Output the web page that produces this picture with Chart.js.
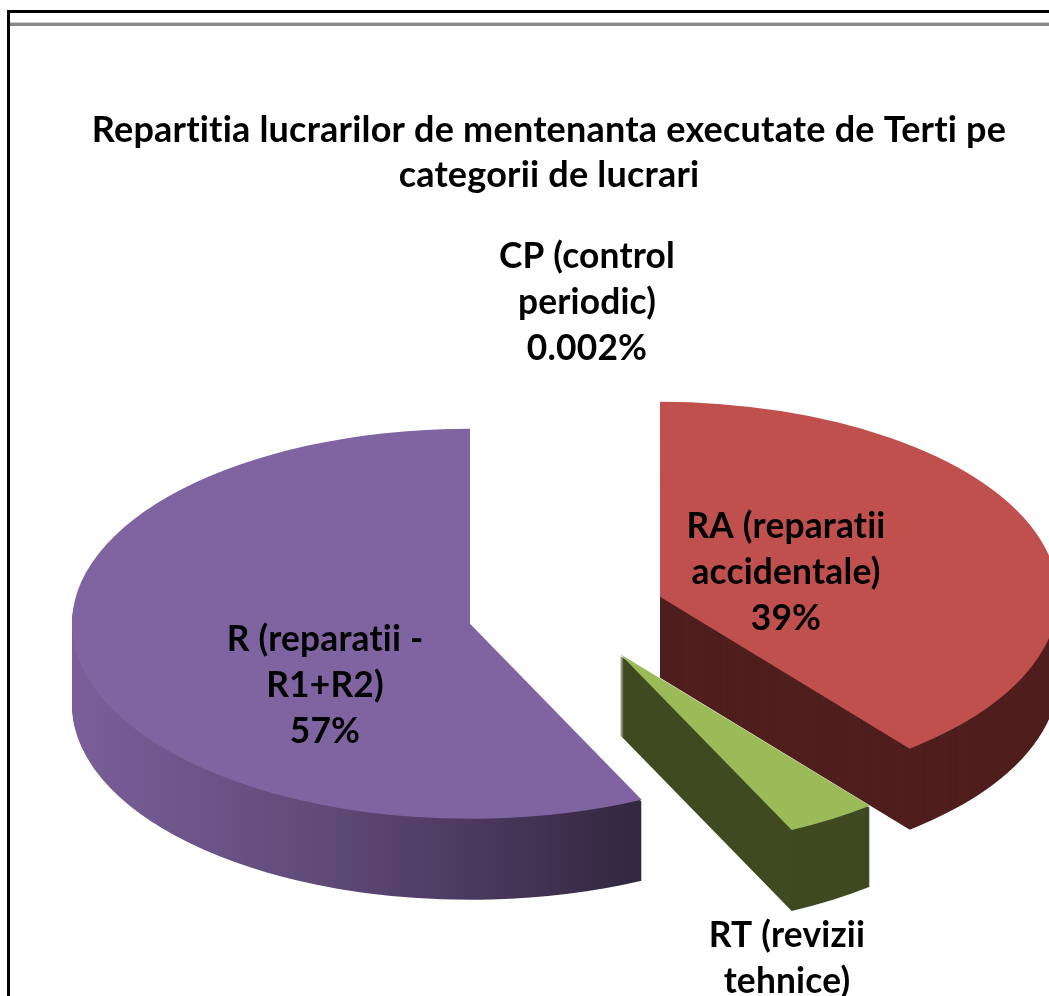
<!DOCTYPE html>
<html>
<head>
<meta charset="utf-8">
<style>
html,body{margin:0;padding:0;background:#fff;overflow:hidden;width:1049px;height:996px}
#frame{position:absolute;left:7px;top:10px;width:1100px;height:1100px;border-left:3px solid #000;border-top:3px solid #000}
#rule{position:absolute;left:10px;top:22px;width:1039px;height:3px;background:#888;border-top:1px solid #ccc}
#c{position:absolute;left:8px;top:12px}
</style>
<script src="https://cdn.jsdelivr.net/npm/chart.js@4"></script>
</head>
<body>
<div id="frame"></div>
<div id="rule"></div>
<canvas id="c" width="1082" height="1100" style="width:1082px;height:1100px"></canvas>
<script>
const titleLines = ['Repartitia lucrarilor de mentenanta executate de Terti pe', 'categorii de lucrari'];
const categories = ['CP (control periodic)', 'RA (reparatii accidentale)', 'RT (revizii tehnice)', 'R (reparatii - R1+R2)'];
const values = [0.002, 39.2, 3.7, 57.1];
const valueLabels = ['0.002%', '39%', '4%', '57%'];
const labelLines = [['CP (control', 'periodic)'], ['RA (reparatii', 'accidentale)'], ['RT (revizii', 'tehnice)'], ['R (reparatii -', 'R1+R2)']];

const topColors = ['#4f81bd', '#c0504d', '#9bbb59', '#8064a2'];
const wallColors = ['#2a4565', '#4f1f1e', '#3f4a21', null];
const FONT = 'Lato, Carlito, sans-serif';
const SQUASH = 0.49, DEPTH = 81, RADIUS = 398, EXPLODE = 99, SHIFT_X = 18;
// label centres relative to the pie centre, in pixels
const labelAnchors = [[20, -310], [219, -40], [220, 369], [-242, 73]];
const LABEL_LINE = 46;

// one slice in the squashed, exploded 3D scene
function drawSlice(ctx, arc, dy) {
  const mid = (arc.startAngle + arc.endAngle) / 2;
  ctx.save();
  ctx.translate(Math.round(SHIFT_X + Math.cos(mid) * EXPLODE), arc.y + dy + Math.sin(mid) * EXPLODE * SQUASH);
  ctx.scale(1, SQUASH);
  ctx.translate(0, -arc.y);
  arc.draw(ctx);
  ctx.restore();
}

const pie3d = {
  id: 'pie3d',
  beforeDraw(chart) {
    chart.ctx.letterSpacing = '0.2px';
  },
  beforeDatasetsDraw(chart) {
    const ctx = chart.ctx;
    // slices narrower than a pixel leave no visible mark
    const arcs = chart.getDatasetMeta(0).data;
    const visible = arcs.map(a => (a.endAngle - a.startAngle) * a.outerRadius >= 1);
    const wallGrad = ctx.createLinearGradient(140, 0, 708, 0);
    wallGrad.addColorStop(0, '#7a5f9a');
    wallGrad.addColorStop(0.45, '#5f4a78');
    wallGrad.addColorStop(0.8, '#453356');
    wallGrad.addColorStop(1, '#322840');
    // side walls first, back to front
    arcs.forEach((arc, i) => {
      if (!visible[i]) return;
      const saved = arc.options;
      arc.options = Object.assign({}, saved, {backgroundColor: wallColors[i] || wallGrad});
      for (let d = DEPTH; d >= 2; d--) drawSlice(ctx, arc, d);
      arc.options = saved;
    });
    // then the top faces
    arcs.forEach((arc, i) => { if (visible[i]) drawSlice(ctx, arc, 0); });
    // labels
    const arc0 = arcs[0];
    ctx.save();
    ctx.fillStyle = '#000';
    ctx.font = 'bold 35.3px ' + FONT;
    ctx.textAlign = 'center';
    ctx.textBaseline = 'middle';
    labelLines.forEach((lines, i) => {
      const all = lines.concat(valueLabels[i]);
      const cx = arc0.x + SHIFT_X + labelAnchors[i][0];
      const cy = arc0.y + labelAnchors[i][1];
      all.forEach((t, k) => ctx.fillText(t, cx, cy + (k - 1) * LABEL_LINE));
    });
    ctx.restore();
    return false;
  }
};

new Chart(document.getElementById('c'), {
  type: 'pie',
  data: {
    labels: categories,
    datasets: [{
      data: values,
      backgroundColor: topColors,
      borderWidth: 0,
      hoverOffset: 0
    }]
  },
  options: {
    responsive: false,
    animation: false,
    radius: RADIUS,
    layout: {padding: {bottom: 84}},
    events: [],
    plugins: {
      legend: {display: false},
      tooltip: {enabled: false},
      title: {
        display: true,
        text: titleLines,
        color: '#000',
        font: {family: FONT, size: 36, weight: 'bold', lineHeight: 1.25},
        padding: {top: 96, bottom: 0}
      }
    }
  },
  plugins: [pie3d]
});
</script>
</body>
</html>
